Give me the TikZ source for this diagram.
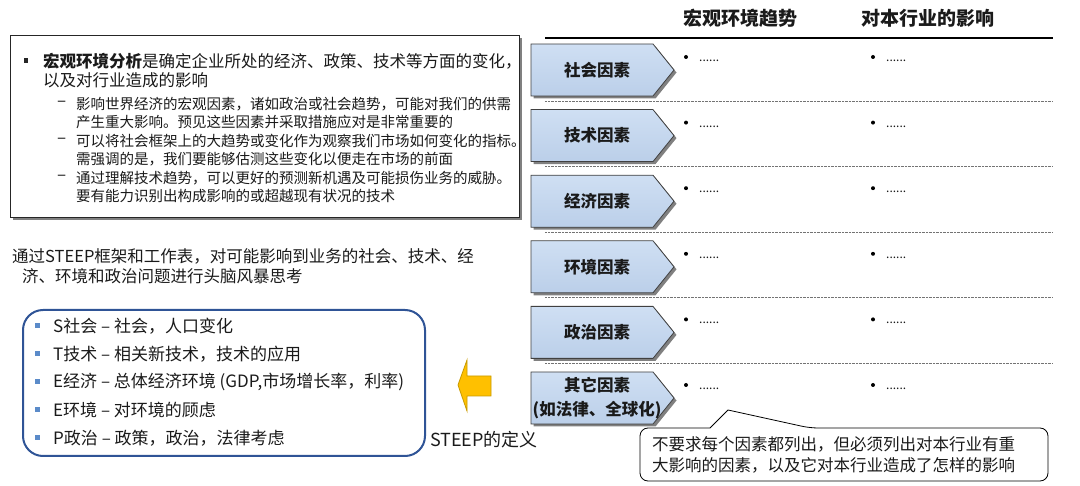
\documentclass[tikz,border=0pt]{standalone}
\usepackage{fontspec}
\setmainfont{Noto Sans CJK SC}
\definecolor{chevtop}{HTML}{CFDFF3}
\definecolor{chevbot}{HTML}{BBCFE9}
\definecolor{steepblue}{HTML}{2F5496}
\definecolor{sqblue}{HTML}{5B8BC9}
\definecolor{arrowfill}{HTML}{FFC000}
\definecolor{arrowdraw}{HTML}{C89A00}
\definecolor{txt}{HTML}{1A1A1A}
\begin{document}
\begin{tikzpicture}[x=1pt,y=-1pt,
  every node/.style={text=txt},
  hdr/.style={font=\fontsize{19}{22}\selectfont\bfseries, inner sep=0},
  chevlabel/.style={font=\fontsize{16.5}{24}\selectfont\bfseries, align=center, inner sep=0},
  mainline/.style={font=\fontsize{16.5}{19}\selectfont, anchor=west, inner sep=0},
  subline/.style={font=\fontsize{14.5}{18}\selectfont, anchor=west, inner sep=0},
  dashmark/.style={font=\fontsize{17}{18}\selectfont, anchor=west, inner sep=0},
  dotstext/.style={font=\fontsize{12}{14}\selectfont, anchor=base west, inner sep=0},
  sepline/.style={black!55, line width=0.6, dash pattern=on 0.7pt off 0.7pt},
  chevshape/.style={draw=black!75, line width=0.8, top color=chevtop, bottom color=chevbot},
  shadowfill/.style={fill=black!50},
  steepitem/.style={font=\fontsize{17}{19}\selectfont, anchor=west, inner sep=0},
  sqbullet/.style={fill=sqblue}
]
\useasboundingbox (0,0) rectangle (1080,486);

% headers
\node[hdr] (h1) at (740,18) {宏观环境趋势};
\node[hdr] (h2) at (928,18) {对本行业的影响};
\coordinate (hl) at (545,38);
\coordinate (hr) at (1053,38);
\draw[line width=1.6] (hl) -- (hr);

% rows
\foreach \i/\nm/\lab in {0/soc/社会因素, 1/tech/技术因素, 2/eco/经济因素, 3/env/环境因素, 4/pol/政治因素, 5/oth/{其它因素\\(如法律、全球化)}}{
  \pgfmathsetmacro{\t}{44+65.6*\i}
  \fill[shadowfill] (533.5,\t+2.5) -- ++(122,0) -- ++(21,26) -- ++(-21,26) -- ++(-122,0) -- cycle;
  \path[chevshape] (531,\t) -- ++(122,0) -- ++(21,26) -- ++(-21,26) -- ++(-122,0) -- cycle;
  \node[chevlabel] (\nm) at (597,\t+26) {\lab};
  \fill (686,\t+13) circle (2);
  \node[dotstext] (\nm a) at (699,\t+17.5) {......};
  \fill (873,\t+13) circle (2);
  \node[dotstext] (\nm b) at (886,\t+17.5) {......};
}
\foreach \i in {0,...,4}{
  \pgfmathsetmacro{\t}{44+65.6*\i+57}
  \coordinate (sl\i) at (545,\t);
  \coordinate (sr\i) at (1053,\t);
  \draw[sepline] (sl\i) -- (sr\i);
}

% left context box
\fill[shadowfill] (13,38) rectangle (522,220);
\node[draw=black!85, line width=0.8, fill=white, minimum width=509, minimum height=182, inner sep=0, anchor=north west] (ctx) at (10,35) {};
\fill[black!85] (23.5,58.5) rectangle (28,63);
\node[mainline] (m1) at (43,61) {\textbf{宏观环境分析}是确定企业所处的经济、政策、技术等方面的变化，};
\node[mainline] (m2) at (43,80) {以及对行业造成的影响};
\node[dashmark] (da) at (57,104) {–};
\node[subline] (s1) at (76,104) {影响世界经济的宏观因素，诸如政治或社会趋势，可能对我们的供需};
\node[subline] (s1b) at (76,122) {产生重大影响。预见这些因素并采取措施应对是非常重要的};
\node[dashmark] (db) at (57,141) {–};
\node[subline] (s2) at (76,141) {可以将社会框架上的大趋势或变化作为观察我们市场如何变化的指标。};
\node[subline] (s2b) at (76,159) {需强调的是，我们要能够估测这些变化以便走在市场的前面};
\node[dashmark] (dc) at (57,178) {–};
\node[subline] (s3) at (76,178) {通过理解技术趋势，可以更好的预测新机遇及可能损伤业务的威胁。};
\node[subline] (s3b) at (76,196) {要有能力识别出构成影响的或超越现有状况的技术};

% paragraph
\node[mainline] (p1) at (12,256) {通过STEEP框架和工作表，对可能影响到业务的社会、技术、经};
\node[mainline] (p2) at (22,276) {济、环境和政治问题进行头脑风暴思考};

% STEEP box
\node[draw=steepblue, line width=2, rounded corners=20, minimum width=402, minimum height=146, inner sep=0] (steep) at (224,383) {};
\foreach \y/\nm/\lab in {326/st1/S社会 – 社会，人口变化, 354/st2/T技术 – 相关新技术，技术的应用, 382/st3/{E经济 – 总体经济环境 (GDP,市场增长率，利率)}, 410/st4/E环境 – 对环境的顾虑, 438/st5/P政治 – 政策，政治，法律考虑}{
  \fill[sqbullet] (35,\y-2.5) rectangle (40,\y+2.5);
  \node[steepitem] (\nm) at (53,\y) {\lab};
}

% yellow arrow
\draw[fill=arrowfill, draw=arrowdraw, line width=0.8] (458,385) -- (467,360) -- (467,376) -- (491,376) -- (491,396) -- (467,396) -- (467,411) -- cycle;
\node[font=\fontsize{18}{20}\selectfont, anchor=west, inner sep=0] (def) at (430,440) {STEEP的定义};

% callout
\coordinate (ctip) at (728,410);
\draw[fill=white, line width=0.8, rounded corners=8] (700,428) -- (640,428) -- (640,481) -- (1048,481) -- (1048,428) -- (810,428) [sharp corners] -- (ctip) -- (710,428) -- cycle;
\node[mainline] (c1) at (652,444) {不要求每个因素都列出，但必须列出对本行业有重};
\node[mainline] (c2) at (652,465) {大影响的因素，以及它对本行业造成了怎样的影响};
\end{tikzpicture}
\end{document}
